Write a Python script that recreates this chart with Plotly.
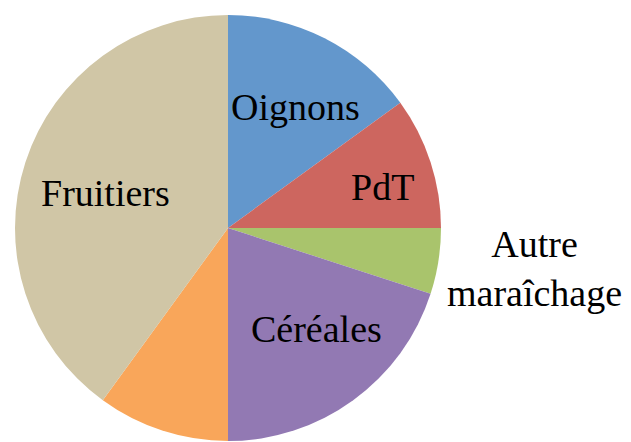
import math
import plotly.graph_objects as go

# Surface shares (%) by crop type, clockwise from 12 o'clock
labels = ["Oignons", "PdT", "Autre maraîchage", "Céréales", "Autres", "Fruitiers"]
values = [15, 10, 5, 20, 10, 40]
shown_text = ["Oignons", "PdT", "Autre<br>maraîchage", "Céréales", "", "Fruitiers"]
colors = ["#6397CC", "#CD665F", "#A9C46C", "#9279B3", "#F9A65A", "#D0C6A6"]

W, H = 631, 442
CX, CY, R = 228, 228, 213

# label placement: (radius as fraction of pie radius, angle nudge in degrees)
label_pos = [(0.65, 2), (0.75, 3), (1.45, -1.5), (0.63, -5), (0.6, 0), (0.6, -2)]

fig = go.Figure(go.Pie(
    labels=labels,
    values=values,
    sort=False,
    direction="clockwise",
    rotation=0,
    marker=dict(colors=colors, line=dict(width=0)),
    textinfo="none",
    hoverinfo="label+percent",
    domain=dict(x=[(CX - R) / W, (CX + R) / W],
                y=[1 - (CY + R) / H, 1 - (CY - R) / H]),
))

total = sum(values)
cum = 0
annotations = []
for v, txt, (frac, nudge) in zip(values, shown_text, label_pos):
    mid = (cum + v / 2) / total * 360 + nudge
    cum += v
    if not txt:
        continue
    a = math.radians(mid)
    px = CX + frac * R * math.sin(a)
    py = CY - frac * R * math.cos(a)
    annotations.append(dict(
        x=px / W, y=1 - py / H, xref="paper", yref="paper",
        text=txt, showarrow=False, xanchor="center", yanchor="middle",
        align="center",
        font=dict(family="Liberation Serif", size=38, color="#000000"),
    ))

fig.update_layout(
    width=W, height=H,
    margin=dict(l=0, r=0, t=0, b=0),
    paper_bgcolor="#FFFFFF",
    plot_bgcolor="#FFFFFF",
    showlegend=False,
    annotations=annotations,
)

fig.write_html("out.html")
